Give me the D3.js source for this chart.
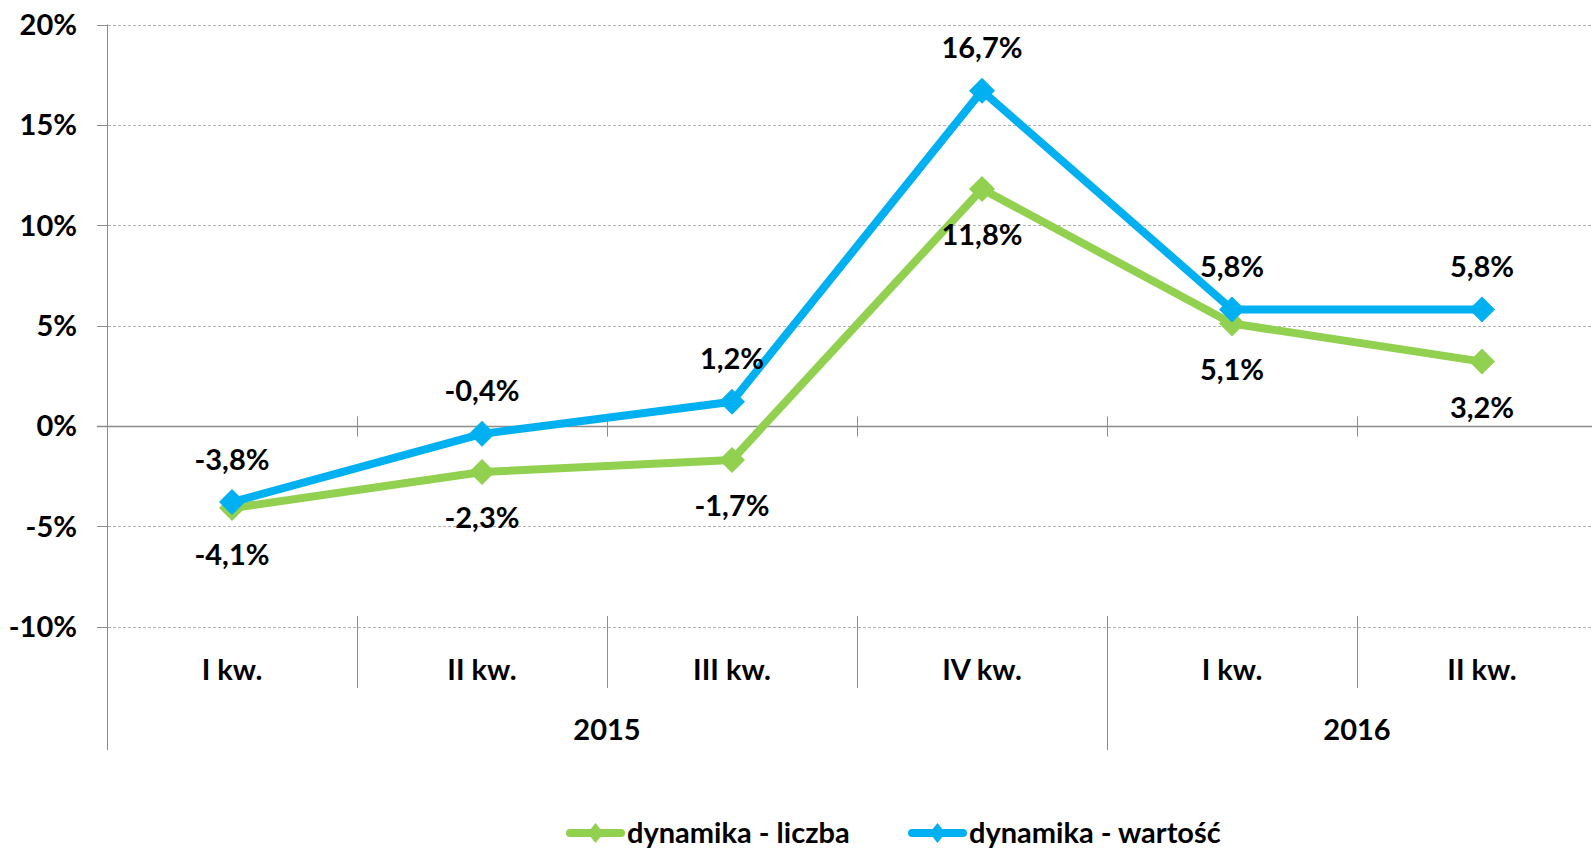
<!DOCTYPE html>
<html>
<head>
<meta charset="utf-8">
<script src="https://cdnjs.cloudflare.com/ajax/libs/d3/7.8.5/d3.min.js"></script>
<style>
  body { margin: 0; background: #fff; }
  svg text { font-family: Lato, "Open Sans", sans-serif; font-weight: bold; fill: #000; font-size: 29px; }
</style>
</head>
<body>
<div id="chart"></div>
<script>
// data
const quarters = ["I kw.", "II kw.", "III kw.", "IV kw.", "I kw.", "II kw."];
const years = [{name: "2015", from: 0, to: 4}, {name: "2016", from: 4, to: 6}];
const liczba = [-4.1, -2.3, -1.7, 11.8, 5.1, 3.2];
const wartosc = [-3.8, -0.4, 1.2, 16.7, 5.8, 5.8];
const yTicks = [-10, -5, 0, 5, 10, 15, 20];

const series = [
    {name: "dynamika - liczba", values: liczba, color: "#92D050", labelPos: "below"},
    {name: "dynamika - wartość", values: wartosc, color: "#00B0F0", labelPos: "above"}
];

const width = 1592, height = 849;
const fmt = v => (v.toFixed(1).replace(".", ",")) + "%";

const svg = d3.select("#chart").append("svg")
    .attr("width", width)
    .attr("height", height);

// scales
const x = d3.scaleBand()
    .domain(d3.range(quarters.length))
    .range([107, 1607]);

const y = d3.scaleLinear()
    .domain([-10, 20])
    .range([626.5, 24.5]);

// gridlines
svg.append("g")
    .selectAll("line")
    .data(yTicks.filter(d => d !== 0))
    .join("line")
    .attr("x1", 98).attr("x2", width)
    .attr("y1", d => Math.round(y(d)) + 0.5)
    .attr("y2", d => Math.round(y(d)) + 0.5)
    .attr("stroke", "#b3b3b3")
    .attr("stroke-width", 1)
    .attr("stroke-dasharray", "3,2");

// y tick marks
svg.append("g")
    .selectAll("line")
    .data(yTicks)
    .join("line")
    .attr("x1", 97).attr("x2", 107)
    .attr("y1", d => Math.round(y(d)) + 0.5)
    .attr("y2", d => Math.round(y(d)) + 0.5)
    .attr("stroke", "#8c8c8c");

// y labels
svg.append("g")
    .selectAll("text")
    .data(yTicks)
    .join("text")
    .attr("x", 77)
    .attr("y", d => y(d))
    .attr("dy", "0.36em")
    .attr("text-anchor", "end")
    .text(d => d + "%");

// zero line (category axis)
const y0 = Math.round(y(0)) + 0.5;
svg.append("line")
    .attr("x1", 97).attr("x2", width)
    .attr("y1", y0).attr("y2", y0)
    .attr("stroke", "#8c8c8c")
    .attr("stroke-width", 1.5);

// tick marks crossing the zero line
svg.append("g")
    .selectAll("line")
    .data(d3.range(1, quarters.length))
    .join("line")
    .attr("x1", i => Math.round(x(i)) + 0.5)
    .attr("x2", i => Math.round(x(i)) + 0.5)
    .attr("y1", y0 - 10).attr("y2", y0 + 10)
    .attr("stroke", "#8c8c8c");

// vertical axis line
svg.append("line")
    .attr("x1", 107.5).attr("x2", 107.5)
    .attr("y1", y(20)).attr("y2", 750)
    .attr("stroke", "#8c8c8c");

// category separators below the plot
svg.append("g")
    .selectAll("line")
    .data(d3.range(1, quarters.length))
    .join("line")
    .attr("x1", i => Math.round(x(i)) + 0.5)
    .attr("x2", i => Math.round(x(i)) + 0.5)
    .attr("y1", 616)
    .attr("y2", i => years.some(yr => yr.from === i) ? 750 : 688)
    .attr("stroke", "#8c8c8c");

// quarter labels
svg.append("g")
    .selectAll("text")
    .data(quarters)
    .join("text")
    .attr("x", (d, i) => x(i) + x.bandwidth() / 2)
    .attr("y", 670)
    .attr("dy", "0.36em")
    .attr("text-anchor", "middle")
    .text(d => d);

// year labels
svg.append("g")
    .selectAll("text")
    .data(years)
    .join("text")
    .attr("x", d => (x(d.from) + x(d.to - 1) + x.bandwidth()) / 2)
    .attr("y", 730)
    .attr("dy", "0.36em")
    .attr("text-anchor", "middle")
    .text(d => d.name);

// lines + markers + labels
const line = d3.line()
    .x((d, i) => x(i) + x.bandwidth() / 2)
    .y(d => y(d));

const diamond = (w, h) => `M0,${-h}L${w},0L0,${h}L${-w},0Z`;

series.forEach(s => {
    const g = svg.append("g");

    g.append("path")
        .datum(s.values)
        .attr("d", line)
        .attr("fill", "none")
        .attr("stroke", s.color)
        .attr("stroke-width", 8)
        .attr("stroke-linejoin", "round");

    g.selectAll(".marker")
        .data(s.values)
        .join("path")
        .attr("class", "marker")
        .attr("transform", (d, i) => `translate(${x(i) + x.bandwidth() / 2},${y(d)})`)
        .attr("d", diamond(13, 13))
        .attr("fill", s.color);
});

series.forEach(s => {
    svg.append("g")
        .selectAll("text")
        .data(s.values)
        .join("text")
        .attr("x", (d, i) => x(i) + x.bandwidth() / 2)
        .attr("y", d => y(d) + (s.labelPos === "above" ? -43 : 46))
        .attr("dy", "0.36em")
        .attr("text-anchor", "middle")
        .text(d => fmt(d));
});

// legend
const legendItems = [{x: 566, s: series[0]}, {x: 908, s: series[1]}];
const legend = svg.append("g").attr("transform", "translate(0,833)");

legendItems.forEach(item => {
    const lg = legend.append("g").attr("transform", `translate(${item.x},0)`);
    lg.append("line")
        .attr("x1", 4).attr("x2", 55)
        .attr("y1", 0).attr("y2", 0)
        .attr("stroke", item.s.color)
        .attr("stroke-width", 8)
        .attr("stroke-linecap", "round");
    lg.append("path")
        .attr("transform", "translate(29.5,0)")
        .attr("d", diamond(8, 10))
        .attr("fill", item.s.color);
    lg.append("text")
        .attr("x", 61)
        .attr("y", 0)
        .attr("dy", "0.36em")
        .text(item.s.name);
});
</script>
</body>
</html>
